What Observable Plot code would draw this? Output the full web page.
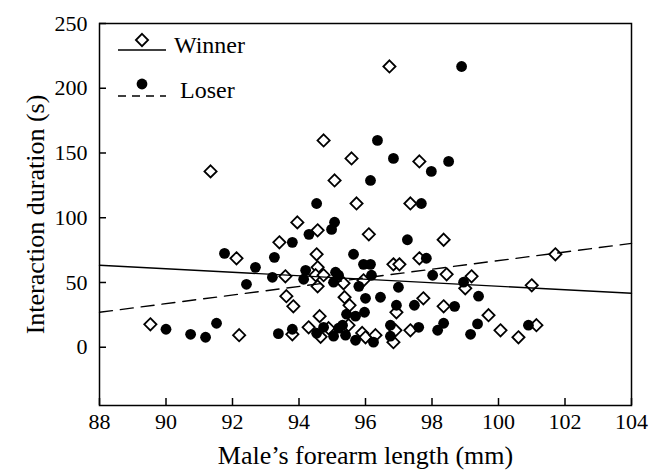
<!DOCTYPE html>
<html><head><meta charset="utf-8">
<script src="https://cdn.jsdelivr.net/npm/d3@7"></script>
<script src="https://cdn.jsdelivr.net/npm/@observablehq/plot@0.6"></script>
<style>
body{margin:0;background:#fff}
#wrap{position:relative;width:662px;height:471px}
#wrap svg, #wrap svg text{font-family:'Liberation Serif','Times New Roman',serif !important}
#legend{position:absolute;left:0;top:0}
</style>
</head><body><div id="wrap"></div>
<script>
const xTicks = [88, 90, 92, 94, 96, 98, 100, 102, 104];
const yTicks = [0, 50, 100, 150, 200, 250];

const winnerForearm = [89.53, 91.34, 92.12, 92.2, 93.41, 93.59, 93.62, 93.83, 93.95, 94.56, 94.74, 95.58, 95.07, 95.73, 97.35, 96.72, 97.62, 96.1, 98.35, 94.53, 97.62, 96.84, 97.02, 98.44, 99.19, 94.56, 94.5, 94.74, 94.56, 95.34, 95.94, 99.0, 101.0, 101.71, 95.37, 95.52, 97.74, 98.35, 96.93, 94.62, 99.7, 93.8, 94.29, 94.89, 94.65, 95.49, 95.9, 96.0, 96.3, 96.9, 96.84, 97.35, 100.06, 100.6, 101.14];
const winnerDuration = [17.7, 135.8, 68.7, 9.3, 81, 54.8, 39.4, 31.6, 96.4, 90.3, 159.7, 145.8, 128.8, 111, 111, 216.8, 143.5, 87.2, 83, 71.8, 68.7, 64, 64, 56.3, 54.8, 61.7, 55.6, 55.6, 47, 49.4, 51.7, 45.5, 47.8, 71.8, 38.6, 32.4, 37.8, 31.6, 27, 24, 24.7, 10, 15.4, 14.7, 8, 17, 11, 7.7, 9.3, 13.1, 3.9, 13.1, 13.1, 7.7, 17];

const loserForearm = [90.0, 90.74, 91.19, 91.52, 91.76, 92.42, 92.69, 93.26, 93.2, 93.38, 93.8, 93.8, 94.3, 94.53, 94.98, 95.07, 96.36, 96.84, 98.5, 97.98, 96.15, 97.68, 97.26, 98.89, 95.64, 97.83, 95.94, 96.15, 96.18, 98.02, 94.2, 94.14, 95.1, 95.19, 95.04, 95.8, 96.99, 98.95, 96.0, 96.45, 96.93, 97.47, 98.68, 99.4, 95.97, 95.43, 95.7, 94.53, 94.74, 95.04, 95.19, 95.31, 95.4, 95.7, 96.24, 96.75, 96.75, 97.6, 98.17, 98.35, 99.16, 99.37, 100.9];
const loserDuration = [13.9, 10, 7.7, 18.5, 72.5, 48.6, 61.7, 69.4, 54, 10.5, 81, 13.9, 87.2, 111, 91, 96.5, 159.7, 145.8, 143.5, 135.8, 128.8, 111, 83, 216.8, 71.8, 68.7, 64, 64, 55.6, 55.6, 59.4, 52.5, 57.9, 55.6, 50.2, 47, 46.3, 50.2, 37.8, 38.6, 32.4, 32.4, 31.6, 39.4, 27, 25.5, 24, 10.8, 15.4, 8.5, 14.7, 17, 9.3, 5.4, 3.9, 17, 8.5, 15.4, 13.1, 18.5, 10, 18, 17];

// regression line end points
const fitForearm = [88, 104];
const winnerFit = [63.3, 41.7];
const loserFit = [27, 80.2];

const winners = winnerForearm.map((x, i) => ({x, y: winnerDuration[i]}));
const losers = loserForearm.map((x, i) => ({x, y: loserDuration[i]}));
const winnerLine = fitForearm.map((x, i) => ({x, y: winnerFit[i]}));
const loserLine = fitForearm.map((x, i) => ({x, y: loserFit[i]}));

const font = "'Liberation Serif', 'Times New Roman', serif";

const chart = Plot.plot({
  width: 662,
  height: 471,
  marginLeft: 99,
  marginRight: 31,
  marginTop: 23,
  marginBottom: 66,
  style: {fontFamily: font, fontSize: "22px", color: "#000", background: "#fff"},
  x: {domain: [88, 104]},
  y: {domain: [-45, 250]},
  marks: [
    Plot.frame({stroke: "#000", strokeWidth: 1.5}),
    Plot.axisX({ticks: xTicks, tickSize: -7, text: null, label: null, strokeWidth: 1.5}),
    Plot.axisX({ticks: xTicks, tickSize: 0, tickPadding: 8, tickFormat: d => d, fontSize: 22,
      label: "Male\u2019s forearm length (mm)", labelAnchor: "center", labelArrow: "none", labelOffset: 58}),
    Plot.axisY({ticks: yTicks, tickSize: -7, text: null, label: null, strokeWidth: 1.5}),
    Plot.axisY({ticks: yTicks, tickSize: 0, tickPadding: 12, tickFormat: d => d, fontSize: 22,
      label: "Interaction duration (s)", labelAnchor: "center", labelArrow: "none", labelOffset: 74}),
    Plot.dot(winners, {x: "x", y: "y", symbol: "diamond2", r: 5.5, fill: "#fff", stroke: "#000", strokeWidth: 1.8}),
    Plot.dot(losers, {x: "x", y: "y", symbol: "circle", r: 5.4, fill: "#000", stroke: "none"}),
    Plot.line(winnerLine, {x: "x", y: "y", stroke: "#000", strokeWidth: 1.4}),
    Plot.line(loserLine, {x: "x", y: "y", stroke: "#000", strokeWidth: 1.4, strokeDasharray: "13,8"})
  ]
});
d3.select(chart).selectAll("text").attr("font-family", font).style("font-family", font);
d3.select(chart).selectAll("[aria-label='x-axis label'] text, [aria-label='y-axis label'] text").style("font-size", "26px");
document.getElementById("wrap").appendChild(chart);

// legend overlay
const lg = d3.select("#wrap").append("svg").attr("id", "legend").attr("width", 300).attr("height", 120);
lg.append("line").attr("x1", 118).attr("x2", 166).attr("y1", 50).attr("y2", 50).attr("stroke", "#000").attr("stroke-width", 1.4);
lg.append("path").attr("d", d3.symbol(d3.symbolDiamond2, Math.PI * 5.5 * 5.5)()).attr("transform", "translate(142,40)")
  .attr("fill", "#fff").attr("stroke", "#000").attr("stroke-width", 1.8);
lg.append("text").attr("x", 174).attr("y", 53).text("Winner").attr("font-family", font).attr("font-size", 24);
lg.append("line").attr("x1", 118).attr("x2", 166).attr("y1", 96).attr("y2", 96).attr("stroke", "#000").attr("stroke-width", 1.4).attr("stroke-dasharray", "8,6");
lg.append("circle").attr("cx", 142).attr("cy", 84).attr("r", 5.4).attr("fill", "#000");
lg.append("text").attr("x", 180).attr("y", 98).text("Loser").attr("font-family", font).attr("font-size", 24);
</script>
</body></html>
